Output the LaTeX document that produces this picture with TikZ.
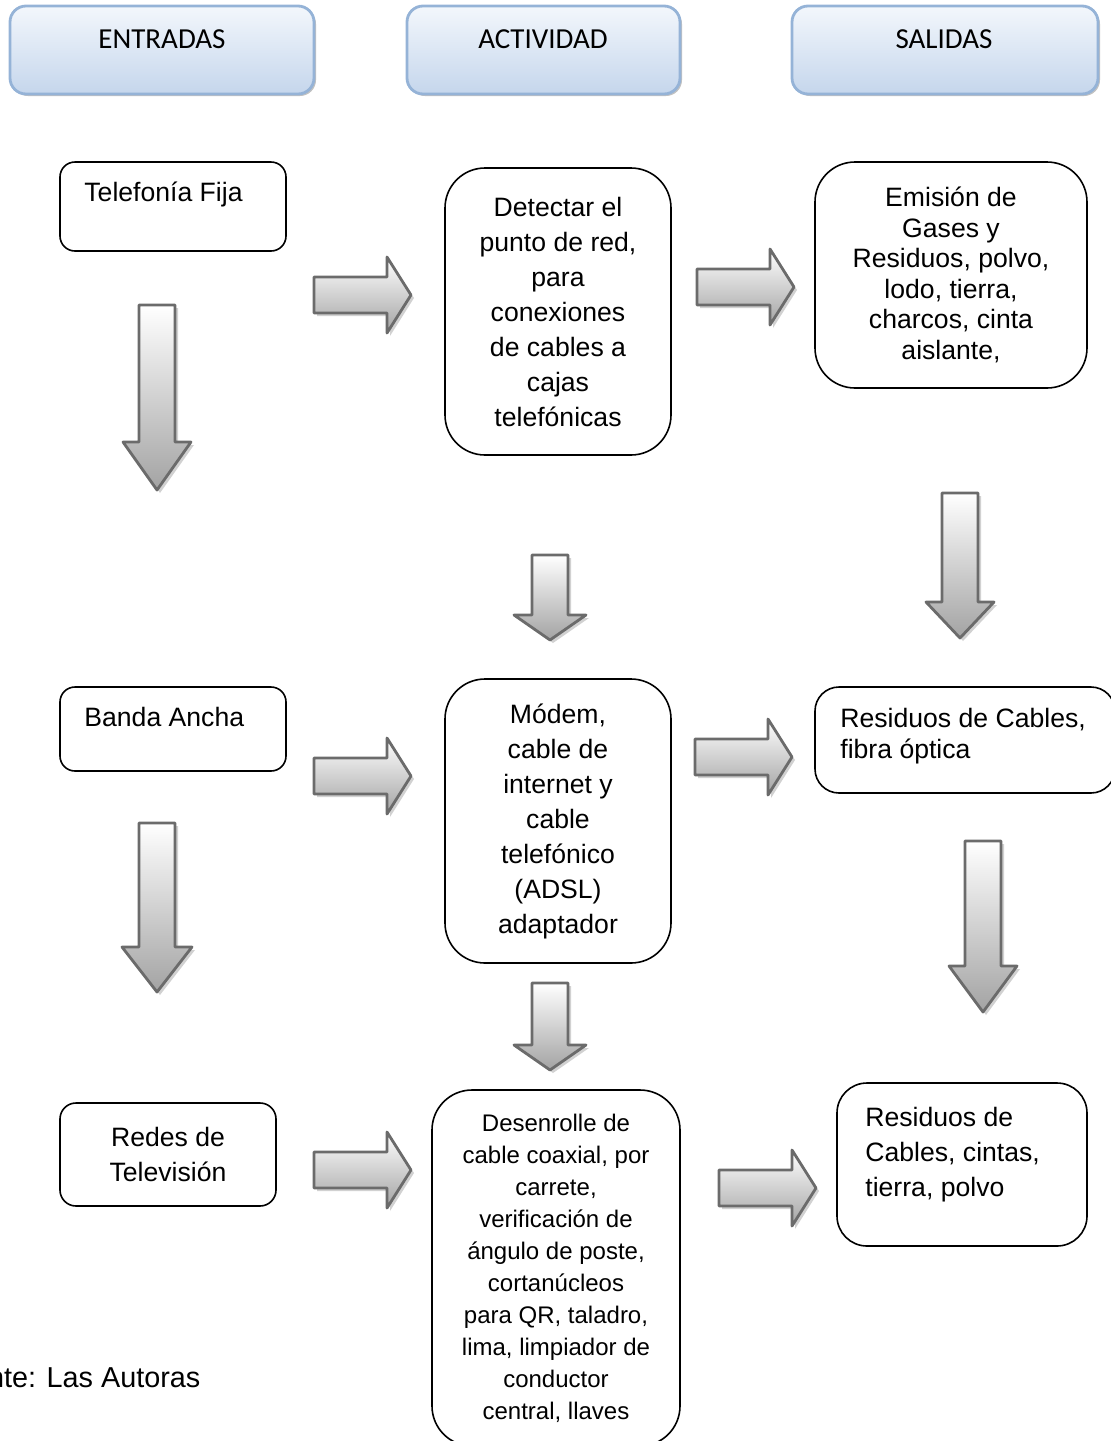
\documentclass[tikz,border=0pt]{standalone}
\usepackage{fontspec}
\setmainfont{Liberation Sans}
\newfontfamily\hdrfont{Carlito}
\usetikzlibrary{shadows}
\definecolor{hdrline}{HTML}{95B3D7}
\definecolor{hdrtop}{HTML}{F3F7FC}
\definecolor{hdrbot}{HTML}{C5D6EC}
\definecolor{arrline}{HTML}{6B6B6B}
\definecolor{arrbot}{HTML}{A3A3A3}

% block arrow to the right: tail x, middle y
\newcommand{\rarrow}[2]{
	\draw [blockarr] (#1,#2-18)--(#1+73,#2-18)--(#1+73,#2-38)--(#1+97,#2)--(#1+73,#2+38)--(#1+73,#2+18)--(#1,#2+18)--cycle;
}
% block arrow downwards: middle x, top, head base, tip, half head
\newcommand{\darrow}[5]{
	\draw [blockarr] (#1-18,#2)--(#1+18,#2)--(#1+18,#3)--(#1+#5,#3)--(#1,#4)--(#1-#5,#3)--(#1-18,#3)--cycle;
}

\begin{document}
\begin{tikzpicture}[line cap=round,line join=round,x=0.5pt,y=-0.5pt,
	hdr/.style={draw=hdrline,line width=1.4pt,rounded corners=8pt,top color=hdrtop,bottom color=hdrbot,
		drop shadow={shadow xshift=1pt,shadow yshift=-1pt,fill=gray!60,opacity=0.8},minimum height=44pt,inner sep=0pt},
	hdrtxt/.style={font=\hdrfont\fontsize{14.5}{17}\selectfont,anchor=base},
	box/.style={draw=black,line width=0.8pt,fill=white,inner sep=0pt,align=center},
	txt/.style={font=\fontsize{13.3}{17.5}\selectfont},
	blockarr/.style={draw=arrline,line width=1.4pt,top color=white,bottom color=arrbot,
		drop shadow={shadow xshift=1.5pt,shadow yshift=-1.5pt,fill=gray!45,opacity=0.8}}]
	\useasboundingbox (0,0) rectangle (1111,1441);
	% headers
	\node [hdr,minimum width=152pt] (ent) at (162,50) {};
	\node [hdrtxt] (entt) at (162,48) {ENTRADAS};
	\node [hdr,minimum width=136.5pt] (act) at (543.5,50) {};
	\node [hdrtxt] (actt) at (543,48) {ACTIVIDAD};
	\node [hdr,minimum width=153pt] (sal) at (945,50) {};
	\node [hdrtxt] (salt) at (944,48) {SALIDAS};
	% entradas
	\node [box,rounded corners=7.5pt,minimum width=113pt,minimum height=44.5pt] (tel) at (173,206.5) {};
	\node [txt,anchor=base west,inner sep=0pt] (telt) at (84,201) {Telefonía Fija};
	\node [box,rounded corners=7.5pt,minimum width=113pt,minimum height=42pt] (banda) at (173,729) {};
	\node [txt,anchor=base west,inner sep=0pt] (bandat) at (84,726) {Banda Ancha};
	\node [box,txt,rounded corners=8pt,minimum width=108pt,minimum height=51.5pt] (redes) at (168,1154.5) {Redes de\\Televisión};
	% actividad
	\node [box,txt,rounded corners=20pt,minimum width=113pt,minimum height=143.5pt] (det) at (558,311.5)
		{Detectar el\\punto de red,\\para\\conexiones\\de cables a\\cajas\\telefónicas};
	\node [box,txt,rounded corners=20pt,minimum width=113pt,minimum height=142pt] (modem) at (558,821)
		{Módem,\\cable de\\internet y\\cable\\telefónico\\(ADSL)\\adaptador};
	\node [box,rounded corners=20pt,minimum width=124pt,minimum height=178pt,font=\fontsize{12}{16}\selectfont] (desen) at (556,1268)
		{Desenrolle de\\cable coaxial, por\\carrete,\\verificación de\\ángulo de poste,\\cortanúcleos\\para QR, taladro,\\lima, limpiador de\\conductor\\central, llaves};
	% salidas
	\node [box,rounded corners=20pt,minimum width=136pt,minimum height=113pt,font=\fontsize{13.3}{15.3}\selectfont] (emis) at (951,275)
		{Emisión de\\Gases y\\Residuos, polvo,\\lodo, tierra,\\charcos, cinta\\aislante,};
	\node [box,rounded corners=12pt,minimum width=150pt,minimum height=53pt] (resfib) at (965,740) {};
	\node [anchor=north west,align=left,inner sep=0pt,font=\fontsize{13.3}{15.5}\selectfont] (resfibt) at (840,707.5)
		{Residuos de Cables,\\fibra óptica};
	\node [box,rounded corners=15pt,minimum width=125pt,minimum height=81.5pt] (resci) at (962,1164.5) {};
	\node [txt,anchor=north west,align=left,inner sep=0pt] (rescit) at (865,1106.5)
		{Residuos de\\Cables, cintas,\\tierra, polvo};
	% flechas
	\rarrow{314}{295}
	\rarrow{697}{287}
	\rarrow{314}{776}
	\rarrow{695}{757}
	\rarrow{314}{1170}
	\rarrow{719}{1188}
	\darrow{157}{305}{442}{490}{34}
	\darrow{157}{823}{947}{992}{35}
	\darrow{550}{555}{615}{640}{36}
	\darrow{550}{983}{1045}{1070}{36}
	\darrow{960}{493}{602}{638}{34}
	\darrow{983}{841}{966}{1012}{34}
	% fuente
	\node [anchor=base west,inner sep=0pt,font=\fontsize{14.4}{17}\selectfont] (fuente) at (-62,1387) {Fuente: Las Autoras};
\end{tikzpicture}
\end{document}
